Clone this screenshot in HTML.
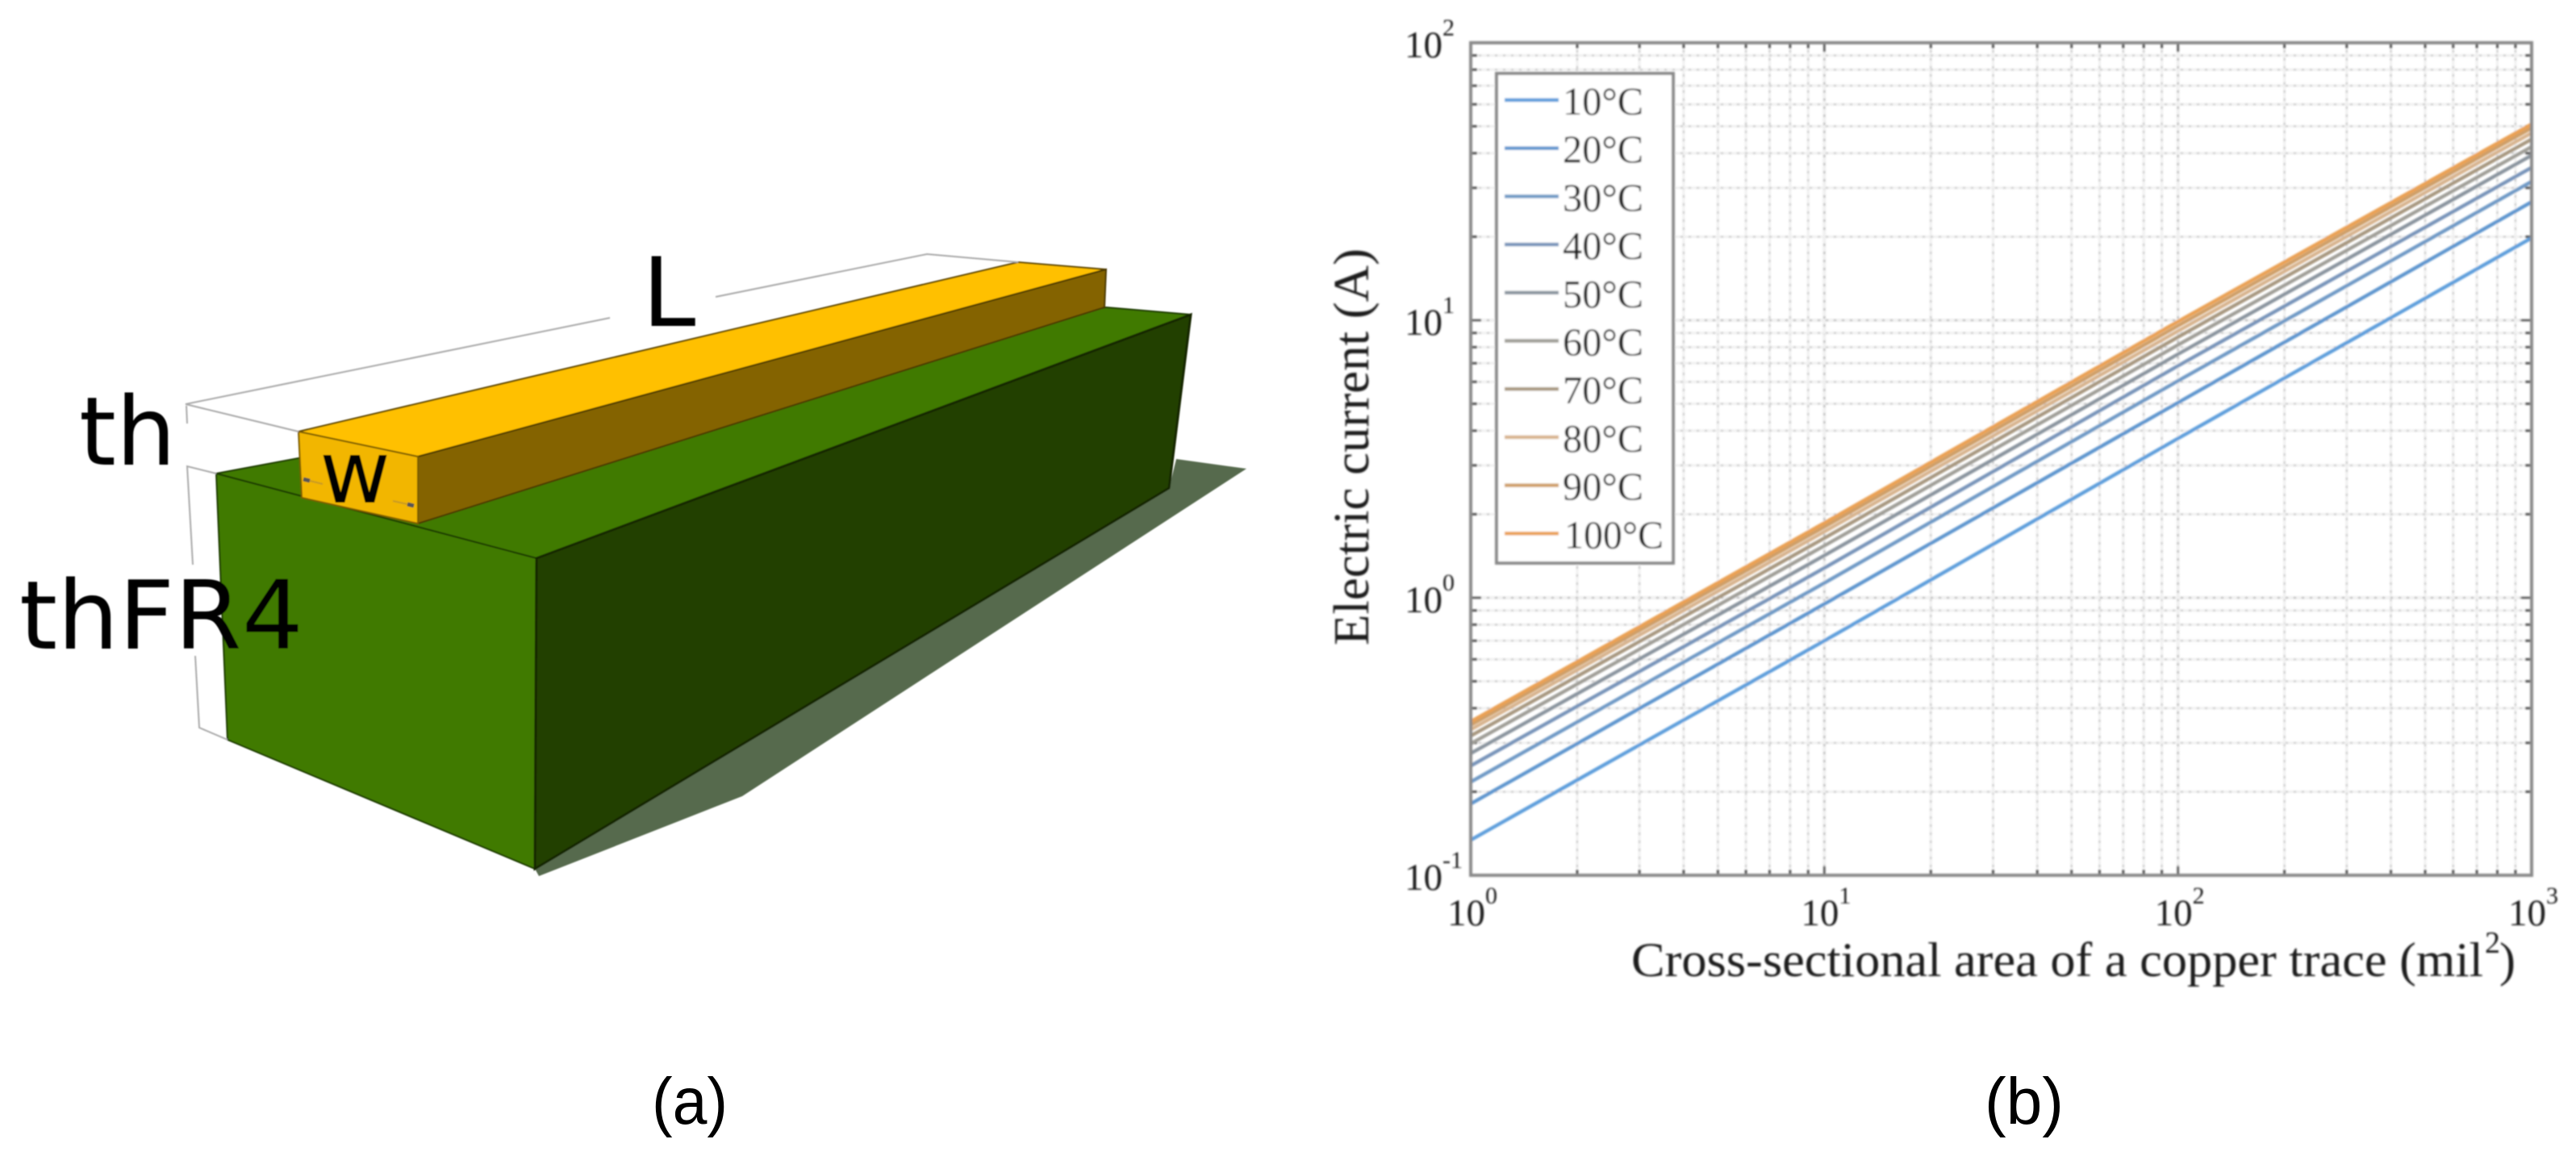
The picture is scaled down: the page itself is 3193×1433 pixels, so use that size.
<!DOCTYPE html>
<html lang="en">
<head>
<meta charset="utf-8">
<title>Copper trace geometry and current chart</title>
<style>
html,body{margin:0;padding:0;background:#fff;width:3193px;height:1433px;overflow:hidden}
svg{display:block}
.serif{font-family:"Liberation Serif",serif;fill:#1c1c1c}
.sans{font-family:"DejaVu Sans",sans-serif;fill:#000}
.cap{font-family:"Liberation Sans",sans-serif;fill:#000}
</style>
</head>
<body>
<svg id="figure" xmlns="http://www.w3.org/2000/svg" width="3193" height="1433" viewBox="0 0 3193 1433">
  <defs>
    <filter id="soft" x="-5%" y="-5%" width="110%" height="110%"><feGaussianBlur stdDeviation="1.1"/></filter>
    <filter id="softer" x="-5%" y="-5%" width="110%" height="110%"><feGaussianBlur stdDeviation="0.7"/></filter>
  </defs>
  <rect width="3193" height="1433" fill="#fff"/>

  <g id="diagram" filter="url(#softer)">
    <polygon points="663,1077 668,1086 920,987 1545,581 1458,569 1449,605" fill="#566b4d"/>
    <polygon points="268,587 1371,381 1476,390 665,692" fill="#3f7a00" stroke="#1d3a00" stroke-width="2"/>
    <polygon points="268,587 665,692 663,1077 282,917" fill="#3f7a00" stroke="#1d3a00" stroke-width="2"/>
    <polygon points="665,692 1476,390 1449,605 663,1077" fill="#204000" stroke="#122500" stroke-width="3"/>
    <polygon points="370,535 1262,325 1371,334 518,566" fill="#ffc000" stroke="#5c4500" stroke-width="2"/>
    <polygon points="518,566 1371,334 1369,381 518,649" fill="#846400" stroke="#4a3800" stroke-width="2"/>
    <polygon points="370,535 518,566 518,649 374,617" fill="#f2b600" stroke="#7a5c00" stroke-width="2"/>
    <g fill="none" stroke="#aaaaaa" stroke-width="2">
      <polyline points="756,394 230,501 370,535"/>
      <polyline points="887,368 1149,315 1262,325"/>
      <line x1="231" y1="503" x2="232" y2="525"/>
      <polyline points="268,587 232,578 239,700"/>
      <polyline points="242,813 247,902 282,917"/>
      <line x1="376" y1="594" x2="384" y2="596" stroke="#555" stroke-width="5"/>
      <line x1="384" y1="596" x2="400" y2="600" stroke="#c79a20"/>
      <line x1="505" y1="625" x2="513" y2="627" stroke="#555" stroke-width="5"/>
      <line x1="487" y1="621" x2="505" y2="625" stroke="#c79a20"/>
    </g>
    <text class="sans" x="796" y="404" font-size="119">L</text>
    <text class="sans" x="98" y="576" font-size="118" textLength="120" lengthAdjust="spacingAndGlyphs">th</text>
    <text class="sans" x="24" y="804" font-size="118" textLength="352" lengthAdjust="spacingAndGlyphs">thFR4</text>
    <text class="sans" x="396" y="623" font-size="108" textLength="88" lengthAdjust="spacingAndGlyphs">w</text>
  </g>

  <g id="chart" filter="url(#soft)"></g>

  <text class="cap" x="808" y="1393" font-size="82" textLength="94" lengthAdjust="spacingAndGlyphs">(a)</text>
  <text class="cap" x="2460" y="1393" font-size="82" textLength="98" lengthAdjust="spacingAndGlyphs">(b)</text>
</svg>

<script>
const categories = [1, 10, 100, 1000];
const seriesNames = ["10°C", "20°C", "30°C", "40°C", "50°C", "60°C", "70°C", "80°C", "90°C", "100°C"];
const current10 = [0.134, 0.70, 3.75, 19.8];
const current20 = [0.181, 0.95, 5.05, 26.7];
const current30 = [0.217, 1.13, 6.05, 31.6];
const current40 = [0.248, 1.28, 6.85, 35.5];
const current50 = [0.275, 1.42, 7.55, 39.3];
const current60 = [0.298, 1.54, 8.15, 42.2];
const current70 = [0.318, 1.64, 8.70, 44.9];
const current80 = [0.335, 1.73, 9.15, 47.3];
const current90 = [0.348, 1.80, 9.55, 49.3];
const current100 = [0.358, 1.86, 9.90, 50.9];
const xTickValues = [1, 10, 100, 1000];
const xTickLabels = ["0", "1", "2", "3"];
const yTickValues = [0.1, 1, 10, 100];
const yTickLabels = ["-1", "0", "1", "2"];
const minorMultipliers = [2, 3, 4, 5, 6, 7, 8, 9];
const xAxisTitle = "Cross-sectional area of a copper trace (mil";
const yAxisTitle = "Electric current (A)";

const allSeries = [current10, current20, current30, current40, current50, current60, current70, current80, current90, current100];
const palette = ["#5f9fdc", "#5f96cf", "#6f9ac6", "#7894ba", "#8a949f", "#a09f98", "#a89880", "#d8b48e", "#cf9f68", "#eaa154"];

const NS = "http://www.w3.org/2000/svg";
const chart = document.getElementById("chart");
const plot = { left: 1823, right: 3138, top: 53, bottom: 1085 };

function xScale(v) {
  return plot.left + (Math.log10(v) - Math.log10(xTickValues[0])) /
    (Math.log10(xTickValues[xTickValues.length - 1]) - Math.log10(xTickValues[0])) * (plot.right - plot.left);
}
function yScale(v) {
  return plot.bottom - (Math.log10(v) - Math.log10(yTickValues[0])) /
    (Math.log10(yTickValues[yTickValues.length - 1]) - Math.log10(yTickValues[0])) * (plot.bottom - plot.top);
}
function make(tag, attrs, parent) {
  const el = document.createElementNS(NS, tag);
  for (const k in attrs) el.setAttribute(k, attrs[k]);
  (parent || chart).appendChild(el);
  return el;
}
function gridAndTicks(x1, y1, x2, y2, tx2, ty2, tx3, ty3, major) {
  const base = make("line", { x1, y1, x2, y2, stroke: "#f0f0f0", "stroke-width": major ? 4 : 3 });
  
  
  const dots = make("line", { x1, y1, x2, y2, stroke: major ? "#b4b4b4" : "#c6c6c6", "stroke-width": 2, "stroke-dasharray": "3 7" });
  
  
  const t1 = make("line", { x1, y1, x2: tx2, y2: ty2, stroke: "#555", "stroke-width": 3 });
  
  
  const t2 = make("line", { x1: x2, y1: y2, x2: tx3, y2: ty3, stroke: "#555", "stroke-width": 3 });
  
  
}

// vertical grid
xTickValues.forEach((v, i) => {
  if (i > 0 && i < xTickValues.length - 1) {
    const x = xScale(v);
    gridAndTicks(x, plot.bottom, x, plot.top, x, plot.bottom - 11, x, plot.top + 11, true);
  }
  if (i < xTickValues.length - 1) {
    minorMultipliers.forEach(m => {
      const x = xScale(v * m);
      gridAndTicks(x, plot.bottom, x, plot.top, x, plot.bottom - 7, x, plot.top + 7, false);
    });
  }
});
// horizontal grid
yTickValues.forEach((v, i) => {
  if (i > 0 && i < yTickValues.length - 1) {
    const y = yScale(v);
    gridAndTicks(plot.left, y, plot.right, y, plot.left + 13, y, plot.right - 13, y, true);
  }
  if (i < yTickValues.length - 1) {
    minorMultipliers.forEach(m => {
      const y = yScale(v * m);
      gridAndTicks(plot.left, y, plot.right, y, plot.left + 8, y, plot.right - 8, y, false);
    });
  }
});

// series
allSeries.forEach((vals, s) => {
  const pts = vals.map((v, i) => xScale(categories[i]).toFixed(1) + "," + yScale(v).toFixed(1)).join(" ");
  const line = make("polyline", { points: pts, fill: "none", stroke: palette[s], "stroke-width": 4.4 });
  
  
});

// frame
const frame = make("rect", { x: plot.left, y: plot.top, width: plot.right - plot.left, height: plot.bottom - plot.top, fill: "none", stroke: "#8a8a8a", "stroke-width": 4 });



// tick labels
xTickValues.forEach((v, i) => {
  const x = xScale(v) - 29;
  const t = make("text", { x, y: 1147, "font-size": 47, class: "serif" });
  t.textContent = "10";
  
  
  const e = make("text", { x: x + 47, y: 1120, "font-size": 30, class: "serif" });
  e.textContent = xTickLabels[i];
  
  
});
yTickValues.forEach((v, i) => {
  const y = yScale(v) + 18;
  const t = make("text", { x: 1741, y, "font-size": 47, class: "serif" });
  t.textContent = "10";
  
  
  const e = make("text", { x: 1788, y: y - 27, "font-size": 30, class: "serif" });
  e.textContent = yTickLabels[i];
  
  
});

// axis titles
const xt = make("text", { x: 2022, y: 1210, "font-size": 60, class: "serif", textLength: 1056, lengthAdjust: "spacingAndGlyphs" });
xt.textContent = xAxisTitle;


const xs = make("text", { x: 3080, y: 1181, "font-size": 38, class: "serif" });
xs.textContent = "2";


const xp = make("text", { x: 3098, y: 1210, "font-size": 60, class: "serif" });
xp.textContent = ")";


const yt = make("text", { x: 0, y: 0, "font-size": 62, class: "serif", transform: "translate(1696,800) rotate(-90)", textLength: 492, lengthAdjust: "spacingAndGlyphs" });
yt.textContent = yAxisTitle;



// legend
const legend = make("g", {});


const lbox = make("rect", { x: 1855, y: 91, width: 219, height: 607, fill: "#fff", stroke: "#8a8a8a", "stroke-width": 4 }, legend);


seriesNames.forEach((name, i) => {
  const y = 124 + i * 59.7;
  const sw = make("line", { x1: 1865, x2: 1932, y1: y, y2: y, stroke: palette[i], "stroke-width": 4.4 }, legend);
  
  
  const label = make("text", { x: i === 9 ? 1939 : 1937, y: y + 18, "font-size": 49, class: "serif", textLength: i === 9 ? 123 : 100, lengthAdjust: "spacingAndGlyphs" }, legend);
  label.textContent = name;
  
  
});
</script>
</body>
</html>
